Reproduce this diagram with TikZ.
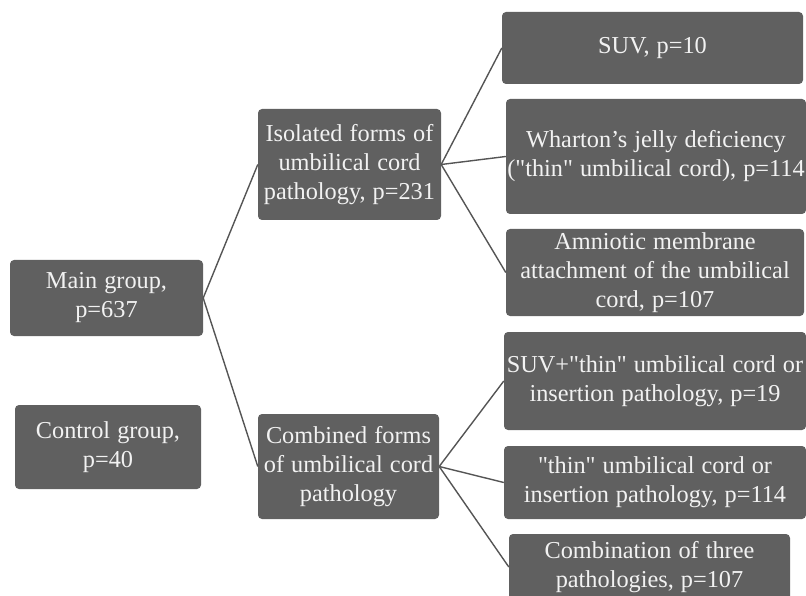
\documentclass[tikz,border=0pt]{standalone}
\usepackage{fontspec}
\setmainfont{Liberation Serif}
\usepackage{xcolor}
\usepackage{tikz}
\usetikzlibrary{positioning}

\definecolor{boxgray}{HTML}{606060}
\definecolor{linegray}{HTML}{555555}
\definecolor{textwhite}{HTML}{F2F2F2}
\newcommand{\qt}{\textquotedbl}
\newcommand{\boxfont}{\fontsize{24.3}{29}\selectfont\spaceskip=0.29em\relax}

\begin{document}
\begin{tikzpicture}[
    x=1pt, y=1pt,
    group/.style={rectangle, rounded corners=4pt, fill=boxgray, text=textwhite, align=center, inner sep=1pt, font=\boxfont},
    link/.style={draw=linegray, line width=1.4pt}
]
\useasboundingbox (0,0) rectangle (806,-596);

\node[group, minimum width=193, minimum height=76] (main) at (106.5, -298) {Main group,\\ p=637};
\node[group, minimum width=186, minimum height=84] (control) at (108, -447) {Control group,\\ p=40};

\node[group, minimum width=183, minimum height=111] (isolated) at (349.5, -164.5) {Isolated forms of\\ umbilical cord\\ pathology, p=231};
\node[group, minimum width=181, minimum height=105] (combined) at (348.5, -466.5) {Combined forms\\ of umbilical cord\\ pathology};

\node[group, minimum width=301, minimum height=72] (suv) at (652.5, -48) {SUV, p=10};
\node[group, minimum width=300, minimum height=115] (wharton) at (656, -156.5) {Wharton's jelly deficiency\\ (\qt thin\qt{} umbilical cord), p=114};
\node[group, minimum width=298, minimum height=87] (amniotic) at (655, -272.5) {Amniotic membrane\\ attachment of the umbilical\\ cord, p=107};

\node[group, minimum width=302, minimum height=98] (suvthin) at (655, -381) {SUV+\qt thin\qt{} umbilical cord or\\ insertion pathology, p=19};
\node[group, minimum width=302, minimum height=73] (thin) at (655, -482.5) {\qt thin\qt{} umbilical cord or\\ insertion pathology, p=114};
\node[group, minimum width=281, minimum height=66] (three) at (649.5, -567) {Combination of three\\ pathologies, p=107};

\draw[link] (main.east) -- (isolated.west);
\draw[link] (main.east) -- (combined.west);

\draw[link] (isolated.east) -- (suv.west);
\draw[link] (isolated.east) -- (wharton.west);
\draw[link] (isolated.east) -- (amniotic.west);

\draw[link] (combined.east) -- (suvthin.west);
\draw[link] (combined.east) -- (thin.west);
\draw[link] (combined.east) -- (three.west);

\end{tikzpicture}
\end{document}
